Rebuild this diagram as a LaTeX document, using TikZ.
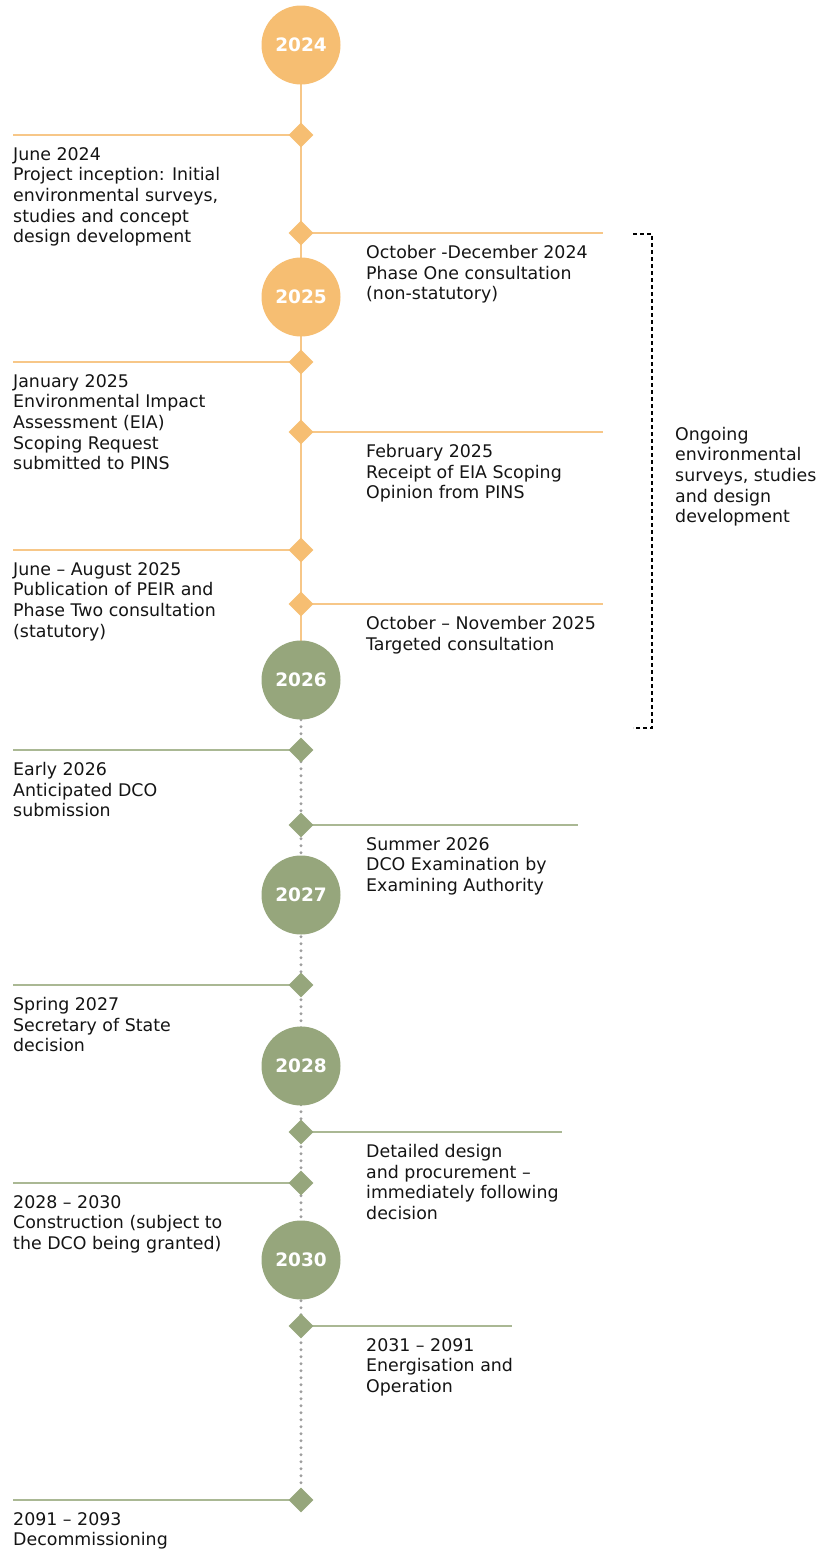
\documentclass[tikz,border=0pt]{standalone}
\usepackage{fontspec}
\setmainfont{DejaVu Sans}
\usetikzlibrary{positioning,shapes.geometric,backgrounds}

\definecolor{tlorange}{RGB}{246,190,114}
\definecolor{tlorangeline}{RGB}{247,199,136}
\definecolor{tlgreen}{RGB}{150,166,124}
\definecolor{tlgreenline}{RGB}{170,184,148}
\definecolor{tldots}{RGB}{158,158,158}
\definecolor{tltext}{RGB}{20,20,20}

\begin{document}
\begin{tikzpicture}[x=1pt,y=-1pt,
  year/.style={circle,minimum size=79pt,inner sep=0pt,text=white,
    font=\fontsize{18.5}{20}\selectfont\bfseries},
  event/.style={diamond,minimum width=25pt,minimum height=25pt,inner sep=0pt},
  note/.style={anchor=north west,align=left,inner sep=0pt,text=tltext,
    font=\fontsize{17.4}{20.7}\selectfont,execute at begin node=\strut},
  oline/.style={tlorangeline,line width=2pt},
  gline/.style={tlgreenline,line width=2pt},
  dotline/.style={tldots,line width=3.4pt,line cap=round,dash pattern=on 0pt off 7pt}]

  \useasboundingbox (0,0) rectangle (816,1550);

  % line ends
  \coordinate (lend) at (13,0);
  \coordinate (rtxt) at (366,0);
  \coordinate (rend1) at (603,0);
  \coordinate (rend2) at (578,0);
  \coordinate (rend3) at (562,0);
  \coordinate (rend4) at (512,0);

  % Years
  \node[year,fill=tlorange] (y2024) at (301,45) {2024};
  \node[year,fill=tlorange] (y2025) at (301,297) {2025};
  \node[year,fill=tlgreen] (y2026) at (301,680) {2026};
  \node[year,fill=tlgreen] (y2027) at (301,895) {2027};
  \node[year,fill=tlgreen] (y2028) at (301,1066) {2028};
  \node[year,fill=tlgreen] (y2030) at (301,1260) {2030};

  % Milestones
  \node[event,fill=tlorange] (e1) at (301,135) {};
  \node[event,fill=tlorange] (e2) at (301,233) {};
  \node[event,fill=tlorange] (e3) at (301,362) {};
  \node[event,fill=tlorange] (e4) at (301,432) {};
  \node[event,fill=tlorange] (e5) at (301,550) {};
  \node[event,fill=tlorange] (e6) at (301,604) {};
  \node[event,fill=tlgreen] (e7) at (301,750) {};
  \node[event,fill=tlgreen] (e8) at (301,825) {};
  \node[event,fill=tlgreen] (e9) at (301,985) {};
  \node[event,fill=tlgreen] (e10) at (301,1132) {};
  \node[event,fill=tlgreen] (e11) at (301,1183) {};
  \node[event,fill=tlgreen] (e12) at (301,1326) {};
  \node[event,fill=tlgreen] (e13) at (301,1500) {};

  % Spine and leader lines
  \begin{scope}[on background layer]
    \draw[oline] (y2024.center) -- (y2026.center);
    \draw[dotline] (y2026.south) -- (e13.center);
    \draw[oline] (e1.center) -- (e1.center -| lend);
    \draw[oline] (e2.center) -- (e2.center -| rend1);
    \draw[oline] (e3.center) -- (e3.center -| lend);
    \draw[oline] (e4.center) -- (e4.center -| rend1);
    \draw[oline] (e5.center) -- (e5.center -| lend);
    \draw[oline] (e6.center) -- (e6.center -| rend1);
    \draw[gline] (e7.center) -- (e7.center -| lend);
    \draw[gline] (e8.center) -- (e8.center -| rend2);
    \draw[gline] (e9.center) -- (e9.center -| lend);
    \draw[gline] (e10.center) -- (e10.center -| rend3);
    \draw[gline] (e11.center) -- (e11.center -| lend);
    \draw[gline] (e12.center) -- (e12.center -| rend4);
    \draw[gline] (e13.center) -- (e13.center -| lend);
  \end{scope}

  % Texts
  \node[note] (n1) at ([yshift=-12pt]e1.center -| lend) {June 2024\\Project inception: Initial\\environmental surveys,\\studies and concept\\design development};
  \node[note] (n2) at ([yshift=-12pt]e2.center -| rtxt) {October -December 2024\\Phase One consultation\\(non-statutory)};
  \node[note] (n3) at ([yshift=-12pt]e3.center -| lend) {January 2025\\Environmental Impact\\Assessment (EIA)\\Scoping Request\\submitted to PINS};
  \node[note] (n4) at ([yshift=-12pt]e4.center -| rtxt) {February 2025\\Receipt of EIA Scoping\\Opinion from PINS};
  \node[note] (n5) at ([yshift=-12pt]e5.center -| lend) {June – August 2025\\Publication of PEIR and\\Phase Two consultation\\(statutory)};
  \node[note] (n6) at ([yshift=-12pt]e6.center -| rtxt) {October – November 2025\\Targeted consultation};
  \node[note] (n7) at ([yshift=-12pt]e7.center -| lend) {Early 2026\\Anticipated DCO\\submission};
  \node[note] (n8) at ([yshift=-12pt]e8.center -| rtxt) {Summer 2026\\DCO Examination by\\Examining Authority};
  \node[note] (n9) at ([yshift=-12pt]e9.center -| lend) {Spring 2027\\Secretary of State\\decision};
  \node[note] (n10) at ([yshift=-12pt]e10.center -| rtxt) {Detailed design\\and procurement –\\immediately following\\decision};
  \node[note] (n11) at ([yshift=-12pt]e11.center -| lend) {2028 – 2030\\Construction (subject to\\the DCO being granted)};
  \node[note] (n12) at ([yshift=-12pt]e12.center -| rtxt) {2031 – 2091\\Energisation and\\Operation};
  \node[note] (n13) at ([yshift=-12pt]e13.center -| lend) {2091 – 2093\\Decommissioning};

  % Ongoing bracket
  \coordinate (brtop) at (633,234);
  \coordinate (brbot) at (633,728);
  \coordinate (brmid) at (652,478);
  \draw[black,line width=1.5pt,dash pattern=on 4pt off 3pt] (brtop) -- ++(19,0) |- (brbot);
  \node[note,anchor=west,right=23pt of brmid] (ongoing) {Ongoing\\environmental\\surveys, studies\\and design\\development};
\end{tikzpicture}
\end{document}
